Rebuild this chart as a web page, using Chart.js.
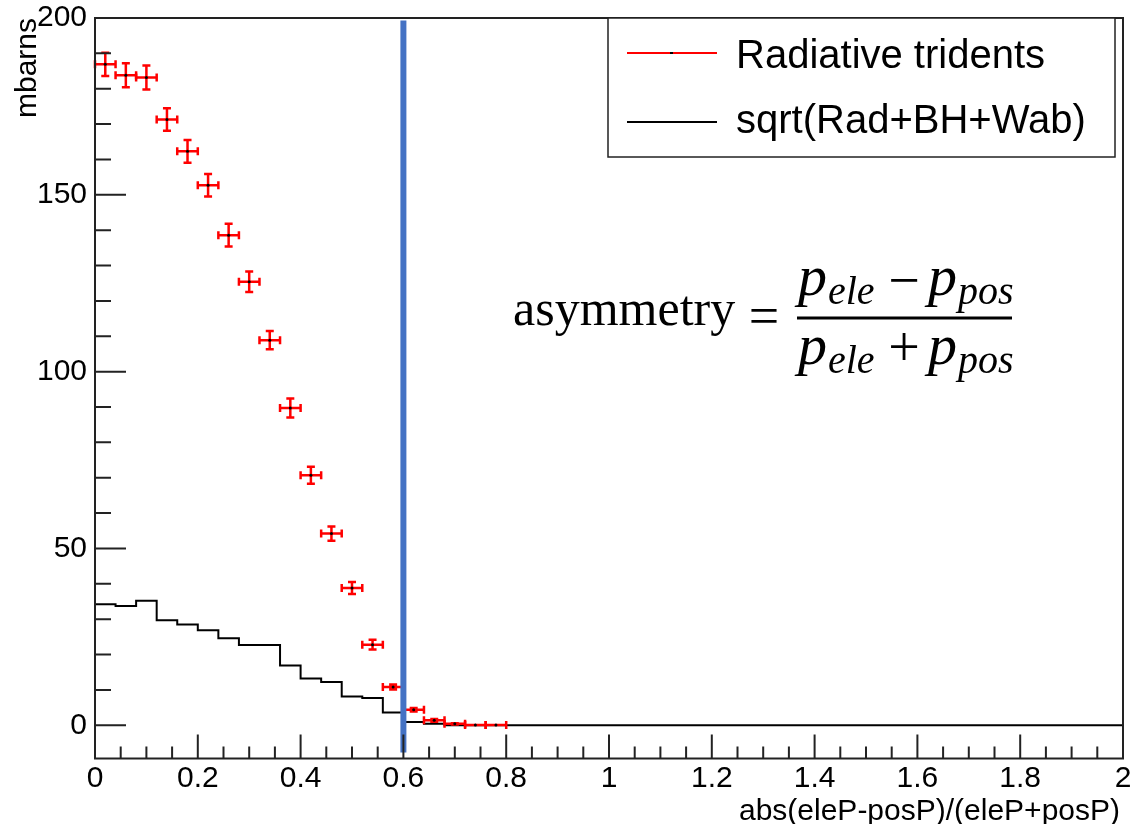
<!DOCTYPE html>
<html>
<head>
<meta charset="utf-8">
<title>Radiative trident asymmetry</title>
<script src="https://cdn.jsdelivr.net/npm/chart.js@4.4.1/dist/chart.umd.min.js"></script>
<style>
  html, body { margin: 0; padding: 0; background: #fff; }
  #wrap { width: 1132px; height: 824px; }
</style>
</head>
<body>
<div id="wrap"><canvas id="asymChart" width="1132" height="824"></canvas></div>
<script>
// bin centres of abs(eleP-posP)/(eleP+posP), bins are 0.04 wide
const binCenters = [0.02, 0.06, 0.10, 0.14, 0.18, 0.22, 0.26, 0.30, 0.34, 0.38,
  0.42, 0.46, 0.50, 0.54, 0.58, 0.62, 0.66, 0.70, 0.74, 0.78]
const binHalfWidth = 0.02
// radiative trident cross section per bin (mbarns) and its error
const radValues = [186.9, 183.8, 183.2, 171.3, 162.3, 152.7, 138.6, 125.4, 108.9, 89.7,
  70.7, 54.2, 38.8, 22.8, 10.8, 4.4, 1.4, 0.4, 0.1, 0.05]
const radErrors = [3.3, 3.4, 3.4, 3.2, 3.2, 3.2, 3.2, 2.9, 2.6, 2.7,
  2.4, 2.0, 1.7, 1.4, 0.7, 0.5, 0.4, 0.2, 0.1, 0.05]
// sqrt(Rad+BH+Wab): low bin edges and the level held from each edge
const histEdges = [0, 0.04, 0.08, 0.12, 0.16, 0.20, 0.24, 0.28, 0.32, 0.36,
  0.40, 0.44, 0.48, 0.52, 0.56, 0.60, 0.64, 0.68, 0.72, 2.0]
const histValues = [34.2, 34.2, 33.7, 35.2, 29.7, 28.5, 26.9, 24.6, 22.7, 22.7,
  16.9, 13.2, 12.2, 8.1, 7.7, 3.6, 0.9, 0.4, 0, 0]
// cut line at asymmetry 0.6
const cutX = 0.6
const cutRange = [-7.7, 199.3]

const xTicks = [0, 0.2, 0.4, 0.6, 0.8, 1, 1.2, 1.4, 1.6, 1.8, 2]
const xTickLabels = ['0', '0.2', '0.4', '0.6', '0.8', '1', '1.2', '1.4', '1.6', '1.8', '2']
const yTicks = [0, 50, 100, 150, 200]
const yTickLabels = ['0', '50', '100', '150', '200']

const sans = "'Liberation Sans', Arial, sans-serif"
const serif = "'Liberation Serif', 'DejaVu Serif', serif"

// red crosses: horizontal bar = bin width, vertical bar = error
const errorBars = {
  id: 'errorBars',
  beforeDatasetDraw(chart, args) {
    if (args.index !== 1) return
    const { ctx, scales: { x, y } } = chart
    ctx.save()
    ctx.strokeStyle = '#ff0000'
    ctx.lineWidth = 2.5
    binCenters.forEach((c, i) => {
      const px = x.getPixelForValue(c)
      const py = y.getPixelForValue(radValues[i])
      const x0 = x.getPixelForValue(c - binHalfWidth)
      const x1 = x.getPixelForValue(c + binHalfWidth)
      const y0 = y.getPixelForValue(radValues[i] - radErrors[i])
      const y1 = y.getPixelForValue(radValues[i] + radErrors[i])
      ctx.beginPath()
      ctx.moveTo(x0, py); ctx.lineTo(x1, py)
      ctx.moveTo(x0, py - 4); ctx.lineTo(x0, py + 4)
      ctx.moveTo(x1, py - 4); ctx.lineTo(x1, py + 4)
      if (y0 - y1 > 1) {
        ctx.moveTo(px, y0); ctx.lineTo(px, y1)
        ctx.moveTo(px - 4, y0); ctx.lineTo(px + 4, y0)
        ctx.moveTo(px - 4, y1); ctx.lineTo(px + 4, y1)
      }
      ctx.stroke()
    })
    ctx.restore()
  }
}

// ROOT style frame with inward ticks, legend box, axis titles and formula
const rootFrame = {
  id: 'rootFrame',
  afterDatasetsDraw(chart) {
    const { ctx, chartArea: a, scales: { x, y } } = chart
    ctx.save()
    ctx.strokeStyle = '#222'
    ctx.lineWidth = 2
    ctx.strokeRect(a.left, a.top, a.right - a.left, a.bottom - a.top)
    ctx.beginPath()
    for (let v = 0; v <= 200; v += 10) {
      const py = y.getPixelForValue(v)
      const len = v % 50 === 0 ? 31 : 16
      ctx.moveTo(a.left, py); ctx.lineTo(a.left + len, py)
    }
    for (let k = 0; k <= 40; k++) {
      const px = x.getPixelForValue(k * 0.05)
      const len = k % 4 === 0 ? 24 : 12
      ctx.moveTo(px, a.bottom); ctx.lineTo(px, a.bottom - len)
    }
    ctx.stroke()
    ctx.restore()
  },
  afterDraw(chart) {
    const { ctx, chartArea: a } = chart
    const sets = chart.data.datasets
    ctx.save()

    // legend
    ctx.fillStyle = '#fff'
    ctx.fillRect(608, a.top, 507, 139)
    ctx.strokeStyle = '#222'
    ctx.lineWidth = 1.5
    ctx.strokeRect(608, a.top, 507, 139)
    ctx.lineWidth = 2
    ctx.strokeStyle = '#ff0000'
    ctx.beginPath(); ctx.moveTo(627, 53); ctx.lineTo(717, 53); ctx.stroke()
    ctx.fillStyle = '#000'
    ctx.fillRect(670, 52, 3, 2)
    ctx.strokeStyle = '#000'
    ctx.beginPath(); ctx.moveTo(627, 122); ctx.lineTo(717, 122); ctx.stroke()
    ctx.font = `40px ${sans}`
    ctx.textAlign = 'left'
    ctx.textBaseline = 'alphabetic'
    ctx.fillText(sets[1].label, 736, 68)
    ctx.fillText(sets[2].label, 736, 133)

    // axis titles
    ctx.font = `30px ${sans}`
    ctx.textAlign = 'right'
    ctx.fillText('abs(eleP-posP)/(eleP+posP)', a.right - 3, 820)
    ctx.save()
    ctx.translate(36, a.top)
    ctx.rotate(-Math.PI / 2)
    ctx.fillText('mbarns', 0, 0)
    ctx.restore()

    // asymmetry definition
    ctx.textAlign = 'left'
    ctx.font = `50px ${serif}`
    ctx.fillText('asymmetry', 513, 325)
    ctx.textAlign = 'center'
    ctx.font = `54px ${serif}`
    ctx.fillText('=', 764, 334)
    ctx.fillRect(797, 316.5, 215, 3)
    const term = (px, base, sub) => {
      ctx.textAlign = 'left'
      ctx.font = `italic 58px ${serif}`
      ctx.fillText('p', px, base)
      ctx.font = `italic 40px ${serif}`
      ctx.fillText(sub, px + 30, base + 9)
    }
    term(798, 295, 'ele')
    term(928, 295, 'pos')
    term(798, 364, 'ele')
    term(928, 364, 'pos')
    ctx.textAlign = 'center'
    ctx.font = `56px ${serif}`
    ctx.fillText('\u2212', 904, 299)
    ctx.fillText('+', 904, 366)
    ctx.restore()
  }
}

const ctx = document.getElementById('asymChart').getContext('2d')
new Chart(ctx, {
  type: 'scatter',
  data: {
    datasets: [
      {
        label: 'cut',
        type: 'line',
        data: cutRange.map(v => ({ x: cutX, y: v })),
        borderColor: '#4472c4',
        borderWidth: 6,
        pointRadius: 0,
        order: 0
      },
      {
        label: 'Radiative tridents',
        data: binCenters.map((c, i) => ({ x: c, y: radValues[i] })),
        pointRadius: 1.5,
        pointBackgroundColor: '#000',
        pointBorderWidth: 0,
        order: 1
      },
      {
        label: 'sqrt(Rad+BH+Wab)',
        type: 'line',
        data: histEdges.map((e, i) => ({ x: e, y: histValues[i] })),
        stepped: 'after',
        borderColor: '#000',
        borderWidth: 2,
        pointRadius: 0,
        order: 2
      }
    ]
  },
  options: {
    responsive: false,
    animation: false,
    layout: { padding: { top: 18, right: 9, left: 0, bottom: 0 } },
    plugins: { legend: { display: false }, tooltip: { enabled: false } },
    scales: {
      x: {
        type: 'linear',
        min: 0,
        max: 2,
        grid: { display: false, drawTicks: false },
        border: { display: false },
        afterFit(s) {
          s.height = 65.5
          s.paddingLeft = 0
          s.paddingRight = 0
        },
        afterBuildTicks(s) { s.ticks = xTicks.map(v => ({ value: v })) },
        ticks: {
          callback: (v, i) => xTickLabels[i],
          font: { family: sans, size: 30 },
          color: '#000',
          padding: 2,
          maxRotation: 0,
          autoSkip: false
        }
      },
      y: {
        min: -9.4,
        max: 200,
        grid: { display: false, drawTicks: false },
        border: { display: false },
        afterFit(s) {
          s.width = 95
          s.paddingTop = 0
          s.paddingBottom = 0
        },
        afterBuildTicks(s) { s.ticks = yTicks.map(v => ({ value: v })) },
        ticks: {
          callback: (v, i) => yTickLabels[i],
          font: { family: sans, size: 30 },
          color: '#000',
          padding: 8,
          autoSkip: false
        }
      }
    }
  },
  plugins: [errorBars, rootFrame]
})
</script>
</body>
</html>
